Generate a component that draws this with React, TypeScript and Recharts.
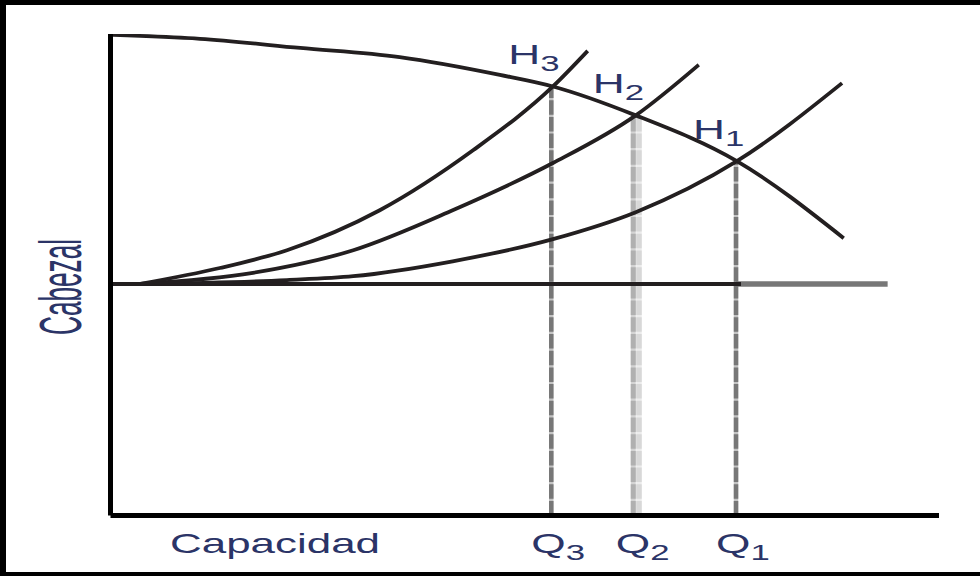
import React from 'react';
import { LineChart, Line, XAxis, YAxis, ReferenceLine } from 'recharts';

// Pump head curve (capacity q, head h in relative units 0..100)
const pumpQ = [0.3, 10.8, 22.9, 34.9, 47.0, 53.4, 63.4, 75.6, 88.5];
const pumpH = [99.8, 99.0, 97.1, 95.2, 91.5, 89.1, 83.1, 73.6, 57.6];

// System curves (3 = steepest, 1 = flattest)
const sys3Q = [3.6, 13.2, 21.3, 32.5, 43.8, 53.4, 57.6];
const sys3H = [48.1, 51.4, 55.1, 63.4, 75.9, 89.1, 96.5];
const sys2Q = [3.6, 17.2, 29.3, 41.3, 53.4, 63.4, 71.0];
const sys2H = [48.1, 50.4, 55.1, 63.4, 73.2, 83.1, 93.6];
const sys1Q = [3.6, 21.3, 29.3, 41.3, 53.4, 63.4, 75.6, 88.3];
const sys1H = [48.1, 48.9, 49.7, 52.8, 57.4, 63.0, 73.6, 89.8];

// Operating points Q3, Q2, Q1 and their heads H3, H2, H1
const opQ = [53.2, 63.4, 75.5];
const opH = [89.1, 83.1, 73.6];
const opSub = ['3', '2', '1'];

const staticHead = 48.1;
const staticEnd = 93.8;

const xLabel = 'Capacidad';
const yLabel = 'Cabezal';
const symH = 'H';
const symQ = 'Q';

const toPoints = (qs: number[], hs: number[]) => qs.map((q, i) => ({ q, h: hs[i] }));
const pump = toPoints(pumpQ, pumpH);
const sys3 = toPoints(sys3Q, sys3H);
const sys2 = toPoints(sys2Q, sys2H);
const sys1 = toPoints(sys1Q, sys1H);

const FONT = "'Liberation Sans', Arial, sans-serif";
const TEXT = '#2b3467';
const INK = '#231f20';

const Sym = ({ x, y, sym, sub }: { x: number; y: number; sym: string; sub: string }) => (
  <g transform={`translate(${x},${y}) scale(1.58,1)`}>
    <text x={0} y={0} fontSize={28} fill={TEXT} fontFamily={FONT}>
      {sym}
      <tspan fontSize={22} dy={6.5}>
        {sub}
      </tspan>
    </text>
  </g>
);

const DashShape = (p: any) => {
  const { x1, y1, x2, y2, tones } = p;
  return (
    <g>
      {tones.map((t: any, i: number) => (
        <g key={i}>
          <line x1={x1 + t.dx} y1={y1} x2={x2 + t.dx} y2={y2} stroke={t.gap} strokeWidth={t.w} />
          <line
            x1={x1 + t.dx}
            y1={y1}
            x2={x2 + t.dx}
            y2={y2}
            stroke={t.color}
            strokeWidth={t.w}
            strokeDasharray="14.5 2.2"
          />
        </g>
      ))}
    </g>
  );
};

const darkTones = [{ dx: 0, w: 4.5, color: '#777777', gap: '#c4c4c4' }];
const lightTones = [
  { dx: -2.5, w: 5, color: '#b0b0b0', gap: '#d4d4d4' },
  { dx: 3.2, w: 5.5, color: '#d8d8d8', gap: '#ececec' },
];

const QTick = (props: any) => {
  const { x, y, payload } = props;
  const i = opQ.indexOf(payload.value);
  if (i < 0) return null;
  return <Sym x={x - 20} y={y + 37.5} sym={symQ} sub={opSub[i]} />;
};

export default function App() {
  return (
    <div style={{ position: 'absolute', left: 0, top: 0, width: 980, height: 576, background: '#fff' }}>
      <LineChart width={980} height={576} margin={{ top: 34, right: 41, left: 0, bottom: 0 }}>
        <XAxis
          dataKey="q"
          type="number"
          domain={[0, 100]}
          ticks={opQ}
          tick={<QTick />}
          tickLine={false}
          tickSize={0}
          tickMargin={0}
          interval={0}
          height={60.5}
          axisLine={{ stroke: '#000', strokeWidth: 5 }}
          allowDataOverflow
          label={{
            content: (p: any) => {
              const vb = p.viewBox || { x: 110.5, y: 515.5 };
              return (
                <text
                  x={vb.x + 59.5}
                  y={vb.y + 37.5}
                  fontSize={28}
                  fill={TEXT}
                  fontFamily={FONT}
                  textLength={210}
                  lengthAdjust="spacingAndGlyphs"
                >
                  {xLabel}
                </text>
              );
            },
          }}
        />
        <YAxis
          type="number"
          domain={[0, 100]}
          width={110.5}
          tick={false}
          tickLine={false}
          axisLine={{ stroke: '#000', strokeWidth: 5 }}
          allowDataOverflow
          label={{
            content: (p: any) => {
              const vb = p.viewBox || { x: 0, y: 34 };
              return (
                <g transform={`translate(${vb.x + 81},${vb.y + 253}) scale(2.3,1) rotate(-90)`}>
                  <text
                    x={0}
                    y={0}
                    fontSize={26}
                    fill={TEXT}
                    fontFamily={FONT}
                    textAnchor="middle"
                    textLength={96}
                    lengthAdjust="spacingAndGlyphs"
                  >
                    {yLabel}
                  </text>
                </g>
              );
            },
          }}
        />

        {opQ.map((q, i) => (
          <ReferenceLine
            key={'v' + i}
            segment={[
              { x: q, y: 0 },
              { x: q, y: opH[i] },
            ]}
            stroke="#777"
            shape={(p: any) => <DashShape {...p} tones={i === 1 ? lightTones : darkTones} />}
            label={{
              content: (p: any) => {
                const vb = p.viewBox;
                if (!vb) return null;
                return <Sym x={vb.x - 43} y={vb.y - 22} sym={symH} sub={opSub[i]} />;
              },
            }}
          />
        ))}

        <ReferenceLine
          segment={[
            { x: opQ[2], y: staticHead },
            { x: staticEnd, y: staticHead },
          ]}
          stroke="#777777"
          strokeWidth={5.5}
        />
        <ReferenceLine
          segment={[
            { x: 0, y: staticHead },
            { x: opQ[2] + 0.6, y: staticHead },
          ]}
          stroke={INK}
          strokeWidth={4}
        />

        <Line data={sys1} dataKey="h" type="monotone" stroke={INK} strokeWidth={3.8} dot={false} activeDot={false} isAnimationActive={false} />
        <Line data={sys2} dataKey="h" type="monotone" stroke={INK} strokeWidth={3.8} dot={false} activeDot={false} isAnimationActive={false} />
        <Line data={sys3} dataKey="h" type="monotone" stroke={INK} strokeWidth={3.8} dot={false} activeDot={false} isAnimationActive={false} />
        <Line data={pump} dataKey="h" type="monotone" stroke={INK} strokeWidth={3.8} dot={false} activeDot={false} isAnimationActive={false} />
      </LineChart>
      <div
        style={{
          position: 'absolute',
          left: 0,
          top: 0,
          width: 980,
          height: 576,
          boxSizing: 'border-box',
          borderLeft: '6px solid #000',
          borderTop: '5px solid #000',
          borderBottom: '4px solid #000',
          pointerEvents: 'none',
        }}
      />
    </div>
  );
}
